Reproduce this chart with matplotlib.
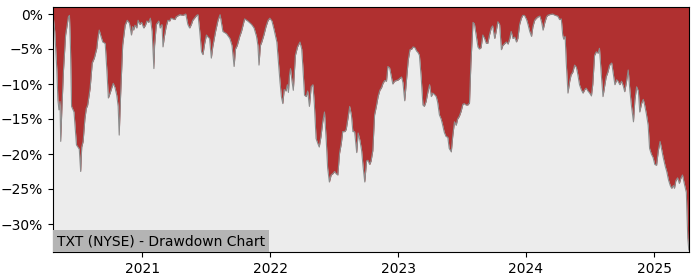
import pandas as pd
import matplotlib
matplotlib.use('Agg')
import matplotlib.pyplot as plt
import matplotlib.dates as mdates
from matplotlib.ticker import FuncFormatter

title = 'TXT (NYSE) - Drawdown Chart'

# drawdown in %
dates = [
    '2020-04-21', '2020-04-23', '2020-04-26', '2020-05-02', '2020-05-05', '2020-05-08', '2020-05-11', '2020-05-13',
    '2020-05-16', '2020-05-21', '2020-05-27', '2020-06-04', '2020-06-07', '2020-06-10', '2020-06-13', '2020-06-20',
    '2020-06-27', '2020-07-05', '2020-07-09', '2020-07-12', '2020-07-16', '2020-07-21', '2020-07-25', '2020-07-29',
    '2020-08-05', '2020-08-11', '2020-08-17', '2020-08-24', '2020-08-27', '2020-08-31', '2020-09-05', '2020-09-10',
    '2020-09-17', '2020-09-22', '2020-09-26', '2020-10-01', '2020-10-06', '2020-10-10', '2020-10-15', '2020-10-20',
    '2020-10-24', '2020-10-27', '2020-10-31', '2020-11-06', '2020-11-13', '2020-11-19', '2020-11-25', '2020-12-01',
    '2020-12-04', '2020-12-07', '2020-12-11', '2020-12-16', '2020-12-20', '2020-12-25', '2020-12-30',
    '2021-01-05', '2021-01-10', '2021-01-14', '2021-01-19', '2021-01-24', '2021-01-29', '2021-02-03', '2021-02-05',
    '2021-02-10', '2021-02-17', '2021-02-21', '2021-02-26', '2021-03-01', '2021-03-05', '2021-03-10', '2021-03-15',
    '2021-03-20', '2021-03-24', '2021-04-04', '2021-04-08', '2021-04-18', '2021-04-27', '2021-05-05', '2021-05-11',
    '2021-05-16', '2021-05-21', '2021-05-25', '2021-06-05', '2021-06-09', '2021-06-14', '2021-06-19', '2021-06-23',
    '2021-06-28', '2021-07-03', '2021-07-06', '2021-07-12', '2021-07-17', '2021-07-21', '2021-07-29', '2021-08-05',
    '2021-08-11', '2021-08-19', '2021-08-29', '2021-09-08', '2021-09-14', '2021-09-20', '2021-09-24', '2021-09-29',
    '2021-10-06', '2021-10-11', '2021-10-16', '2021-10-20', '2021-10-29', '2021-11-09', '2021-11-16', '2021-11-23',
    '2021-11-27', '2021-11-30', '2021-12-04', '2021-12-08', '2021-12-14', '2021-12-20', '2021-12-26', '2021-12-31',
    '2022-01-06', '2022-01-12', '2022-01-20', '2022-01-24', '2022-01-29', '2022-02-02', '2022-02-06', '2022-02-10',
    '2022-02-15', '2022-02-19', '2022-02-22', '2022-02-25', '2022-02-28', '2022-03-04', '2022-03-08', '2022-03-14',
    '2022-03-20', '2022-03-27', '2022-04-01', '2022-04-04', '2022-04-09', '2022-04-14', '2022-04-18', '2022-04-23',
    '2022-04-28', '2022-05-03', '2022-05-07', '2022-05-12', '2022-05-17', '2022-05-21', '2022-05-26', '2022-05-31',
    '2022-06-05', '2022-06-10', '2022-06-14', '2022-06-19', '2022-06-24', '2022-06-29', '2022-07-04', '2022-07-08',
    '2022-07-13', '2022-07-18', '2022-07-23', '2022-07-27', '2022-08-02', '2022-08-06', '2022-08-11', '2022-08-16',
    '2022-08-21', '2022-08-25', '2022-08-30', '2022-09-05', '2022-09-09', '2022-09-14', '2022-09-19', '2022-09-23',
    '2022-09-28', '2022-10-03', '2022-10-07', '2022-10-12', '2022-10-16', '2022-10-21', '2022-10-26', '2022-10-31',
    '2022-11-05', '2022-11-10', '2022-11-15', '2022-11-19', '2022-11-24', '2022-11-29', '2022-12-03', '2022-12-08',
    '2022-12-13', '2022-12-17', '2022-12-22', '2022-12-28',
    '2023-01-02', '2023-01-06', '2023-01-11', '2023-01-15', '2023-01-20', '2023-01-25', '2023-01-30', '2023-02-04',
    '2023-02-09', '2023-02-13', '2023-02-18', '2023-02-23', '2023-02-27', '2023-03-03', '2023-03-08', '2023-03-13',
    '2023-03-17', '2023-03-22', '2023-03-27', '2023-04-01', '2023-04-06', '2023-04-10', '2023-04-15', '2023-04-20',
    '2023-04-24', '2023-04-29', '2023-05-04', '2023-05-08', '2023-05-13', '2023-05-18', '2023-05-23', '2023-05-27',
    '2023-06-02', '2023-06-06', '2023-06-11', '2023-06-16', '2023-06-20', '2023-06-25', '2023-06-30', '2023-07-05',
    '2023-07-09', '2023-07-14', '2023-07-19', '2023-07-24', '2023-07-28', '2023-08-03', '2023-08-07', '2023-08-12',
    '2023-08-17', '2023-08-21', '2023-08-26', '2023-08-31', '2023-09-05', '2023-09-10', '2023-09-14', '2023-09-19',
    '2023-09-24', '2023-09-28', '2023-10-04', '2023-10-08', '2023-10-13', '2023-10-18', '2023-10-23', '2023-10-27',
    '2023-11-02', '2023-11-06', '2023-11-11', '2023-11-16', '2023-11-20', '2023-11-25', '2023-11-30', '2023-12-05',
    '2023-12-09', '2023-12-14', '2023-12-19', '2023-12-23', '2023-12-28',
    '2024-01-03', '2024-01-07', '2024-01-12', '2024-01-17', '2024-01-21', '2024-01-26', '2024-01-31', '2024-02-05',
    '2024-02-10', '2024-02-15', '2024-02-19', '2024-02-24', '2024-02-29', '2024-03-03', '2024-03-08', '2024-03-17',
    '2024-03-25', '2024-04-01', '2024-04-06', '2024-04-11', '2024-04-15', '2024-04-18', '2024-04-22', '2024-04-25',
    '2024-04-30', '2024-05-05', '2024-05-09', '2024-05-14', '2024-05-19', '2024-05-24', '2024-05-28', '2024-06-02',
    '2024-06-07', '2024-06-12', '2024-06-17', '2024-06-21', '2024-06-26', '2024-07-01', '2024-07-06', '2024-07-10',
    '2024-07-15', '2024-07-20', '2024-07-25', '2024-07-29', '2024-08-03', '2024-08-08', '2024-08-13', '2024-08-17',
    '2024-08-22', '2024-08-27', '2024-09-02', '2024-09-06', '2024-09-11', '2024-09-16', '2024-09-20', '2024-09-25',
    '2024-09-30', '2024-10-05', '2024-10-09', '2024-10-14', '2024-10-19', '2024-10-24', '2024-10-28', '2024-11-03',
    '2024-11-07', '2024-11-12', '2024-11-17', '2024-11-21', '2024-11-26', '2024-12-01', '2024-12-05', '2024-12-10',
    '2024-12-15', '2024-12-19', '2024-12-24', '2024-12-29',
    '2025-01-03', '2025-01-08', '2025-01-13', '2025-01-18', '2025-01-22', '2025-01-27', '2025-02-02', '2025-02-06',
    '2025-02-11', '2025-02-16', '2025-02-20', '2025-02-25', '2025-02-28', '2025-03-04', '2025-03-09', '2025-03-14',
    '2025-03-18', '2025-03-23', '2025-03-28', '2025-04-03', '2025-04-07', '2025-04-10',
]
drawdown = [
    0.0, -1.0, -2.5, -8.0, -12.3, -13.7, -12.5, -18.2,
    -14.0, -8.0, -3.0, -0.4, -0.2, -5.0, -13.2, -14.0,
    -18.7, -19.3, -22.5, -19.0, -18.2, -15.0, -13.5, -13.0,
    -10.6, -7.0, -6.3, -4.9, -3.5, -2.3, -3.2, -4.0,
    -4.2, -8.2, -12.0, -11.3, -10.5, -9.9, -10.5, -11.6,
    -13.2, -17.3, -11.6, -4.4, -1.6, -0.9, -1.3, -3.0,
    -1.8, -2.3, -1.6, -2.0, -0.9, -1.5, -1.2,
    -2.0, -1.6, -1.0, -1.2, -0.6, -2.5, -7.8, -4.5,
    -1.5, -1.0, -2.0, -1.5, -4.7, -3.2, -1.8, -0.9,
    -1.0, -0.6, -0.8, -0.4, -0.1, -0.2, 0.0, -1.5,
    -2.0, -1.5, -0.9, -0.2, -0.1, -2.5, -5.4, -5.8,
    -4.2, -3.0, -3.2, -3.5, -6.3, -4.7, -2.5, -0.9,
    -0.1, -2.5, -2.8, -3.5, -4.5, -7.5, -5.0, -4.5,
    -3.2, -2.5, -1.5, -0.7, -1.0, -1.5, -2.0, -3.2,
    -4.5, -7.3, -4.5, -4.0, -3.0, -1.8, -0.9, -0.6,
    -1.0, -2.2, -4.0, -6.6, -9.7, -11.8, -12.8, -10.8,
    -11.0, -10.1, -11.2, -8.8, -7.8, -9.5, -10.9, -5.9,
    -4.7, -4.0, -5.0, -7.3, -11.6, -11.8, -11.0, -13.2,
    -10.4, -10.1, -12.8, -17.8, -18.5, -19.0, -17.5, -15.4,
    -14.0, -18.0, -22.0, -24.0, -23.0, -22.8, -22.5, -22.8,
    -23.0, -19.9, -18.5, -16.8, -16.8, -16.5, -14.9, -13.2,
    -14.5, -16.8, -16.8, -19.8, -17.0, -18.0, -19.5, -21.7,
    -24.0, -21.0, -20.9, -21.5, -21.0, -19.5, -14.4, -13.2,
    -11.8, -10.9, -10.5, -9.9, -9.5, -9.6, -7.5, -7.7,
    -9.0, -10.0, -9.6, -9.5,
    -9.4, -9.2, -9.0, -9.8, -12.4, -9.5, -6.6, -5.1,
    -5.0, -4.7, -4.8, -5.3, -5.5, -5.9, -9.0, -13.0,
    -13.2, -12.5, -11.2, -10.1, -11.8, -11.3, -11.5, -11.8,
    -12.6, -14.4, -15.0, -15.8, -16.9, -17.5, -17.6, -19.2,
    -19.7, -17.5, -15.4, -15.9, -15.0, -14.6, -13.9, -12.9,
    -12.8, -13.0, -13.0, -12.7, -7.0, -1.2, -1.4, -3.0,
    -4.7, -5.0, -4.8, -3.0, -3.5, -4.2, -4.2, -3.0,
    -2.0, -1.7, -3.5, -2.5, -1.1, -1.5, -5.1, -4.5,
    -4.2, -4.0, -4.3, -3.5, -2.5, -3.5, -3.3, -4.0,
    -3.5, -1.5, -0.6, -0.2, -0.2,
    -0.8, -1.5, -2.5, -3.2, -1.8, -0.9, -0.6, -0.4,
    -0.3, -1.2, -2.3, -1.2, -0.4, -0.2, -0.1, 0.0,
    -0.2, -0.3, -0.8, -0.7, -3.0, -3.6, -3.2, -6.8,
    -11.3, -9.6, -8.7, -8.3, -7.3, -7.6, -8.6, -10.1,
    -10.8, -11.3, -10.8, -10.6, -11.0, -11.3, -11.7, -10.0,
    -5.9, -5.4, -5.6, -4.9, -8.5, -11.8, -10.2, -9.0,
    -8.3, -7.3, -7.0, -8.4, -10.1, -9.4, -9.6, -10.1,
    -9.6, -10.3, -11.1, -9.7, -8.0, -11.0, -13.0, -15.4,
    -12.3, -10.4, -11.0, -14.0, -12.8, -12.2, -13.0, -14.3,
    -15.9, -19.2, -20.0, -20.5,
    -21.5, -21.6, -19.5, -18.2, -19.2, -20.5, -21.8, -22.5,
    -23.7, -24.5, -24.9, -24.5, -24.9, -23.8, -23.4, -24.2,
    -23.5, -23.0, -24.2, -25.5, -32.0, -33.7,
]

df = pd.DataFrame({'Date': pd.to_datetime(dates), 'DD': drawdown})

fig = plt.figure(figsize=(7, 2.8), dpi=100)
ax = fig.add_axes([0.0757, 0.1, 0.9083, 0.875])
ax.set_facecolor('#ececec')

ax.fill_between(df['Date'], df['DD'], 1, color='#b03030', linewidth=0)
ax.plot(df['Date'], df['DD'], color='#8c8c8c', linewidth=0.8)

ax.set_xlim(df['Date'].iloc[0], df['Date'].iloc[-1])
ax.set_ylim(-34, 1)
ax.set_yticks([-30, -25, -20, -15, -10, -5, 0])
ax.yaxis.set_major_formatter(FuncFormatter(lambda v, p: f'{v:.0f}%'.replace('-', '\u2212')))
ax.xaxis.set_major_locator(mdates.YearLocator())
ax.xaxis.set_major_formatter(mdates.DateFormatter('%Y'))

ax.text(0.0063, 0.016, title, transform=ax.transAxes, fontsize=10, ha='left', va='bottom',
        bbox=dict(facecolor='#b4b4b4', edgecolor='none', pad=3))

plt.savefig('out.png', dpi=100)
